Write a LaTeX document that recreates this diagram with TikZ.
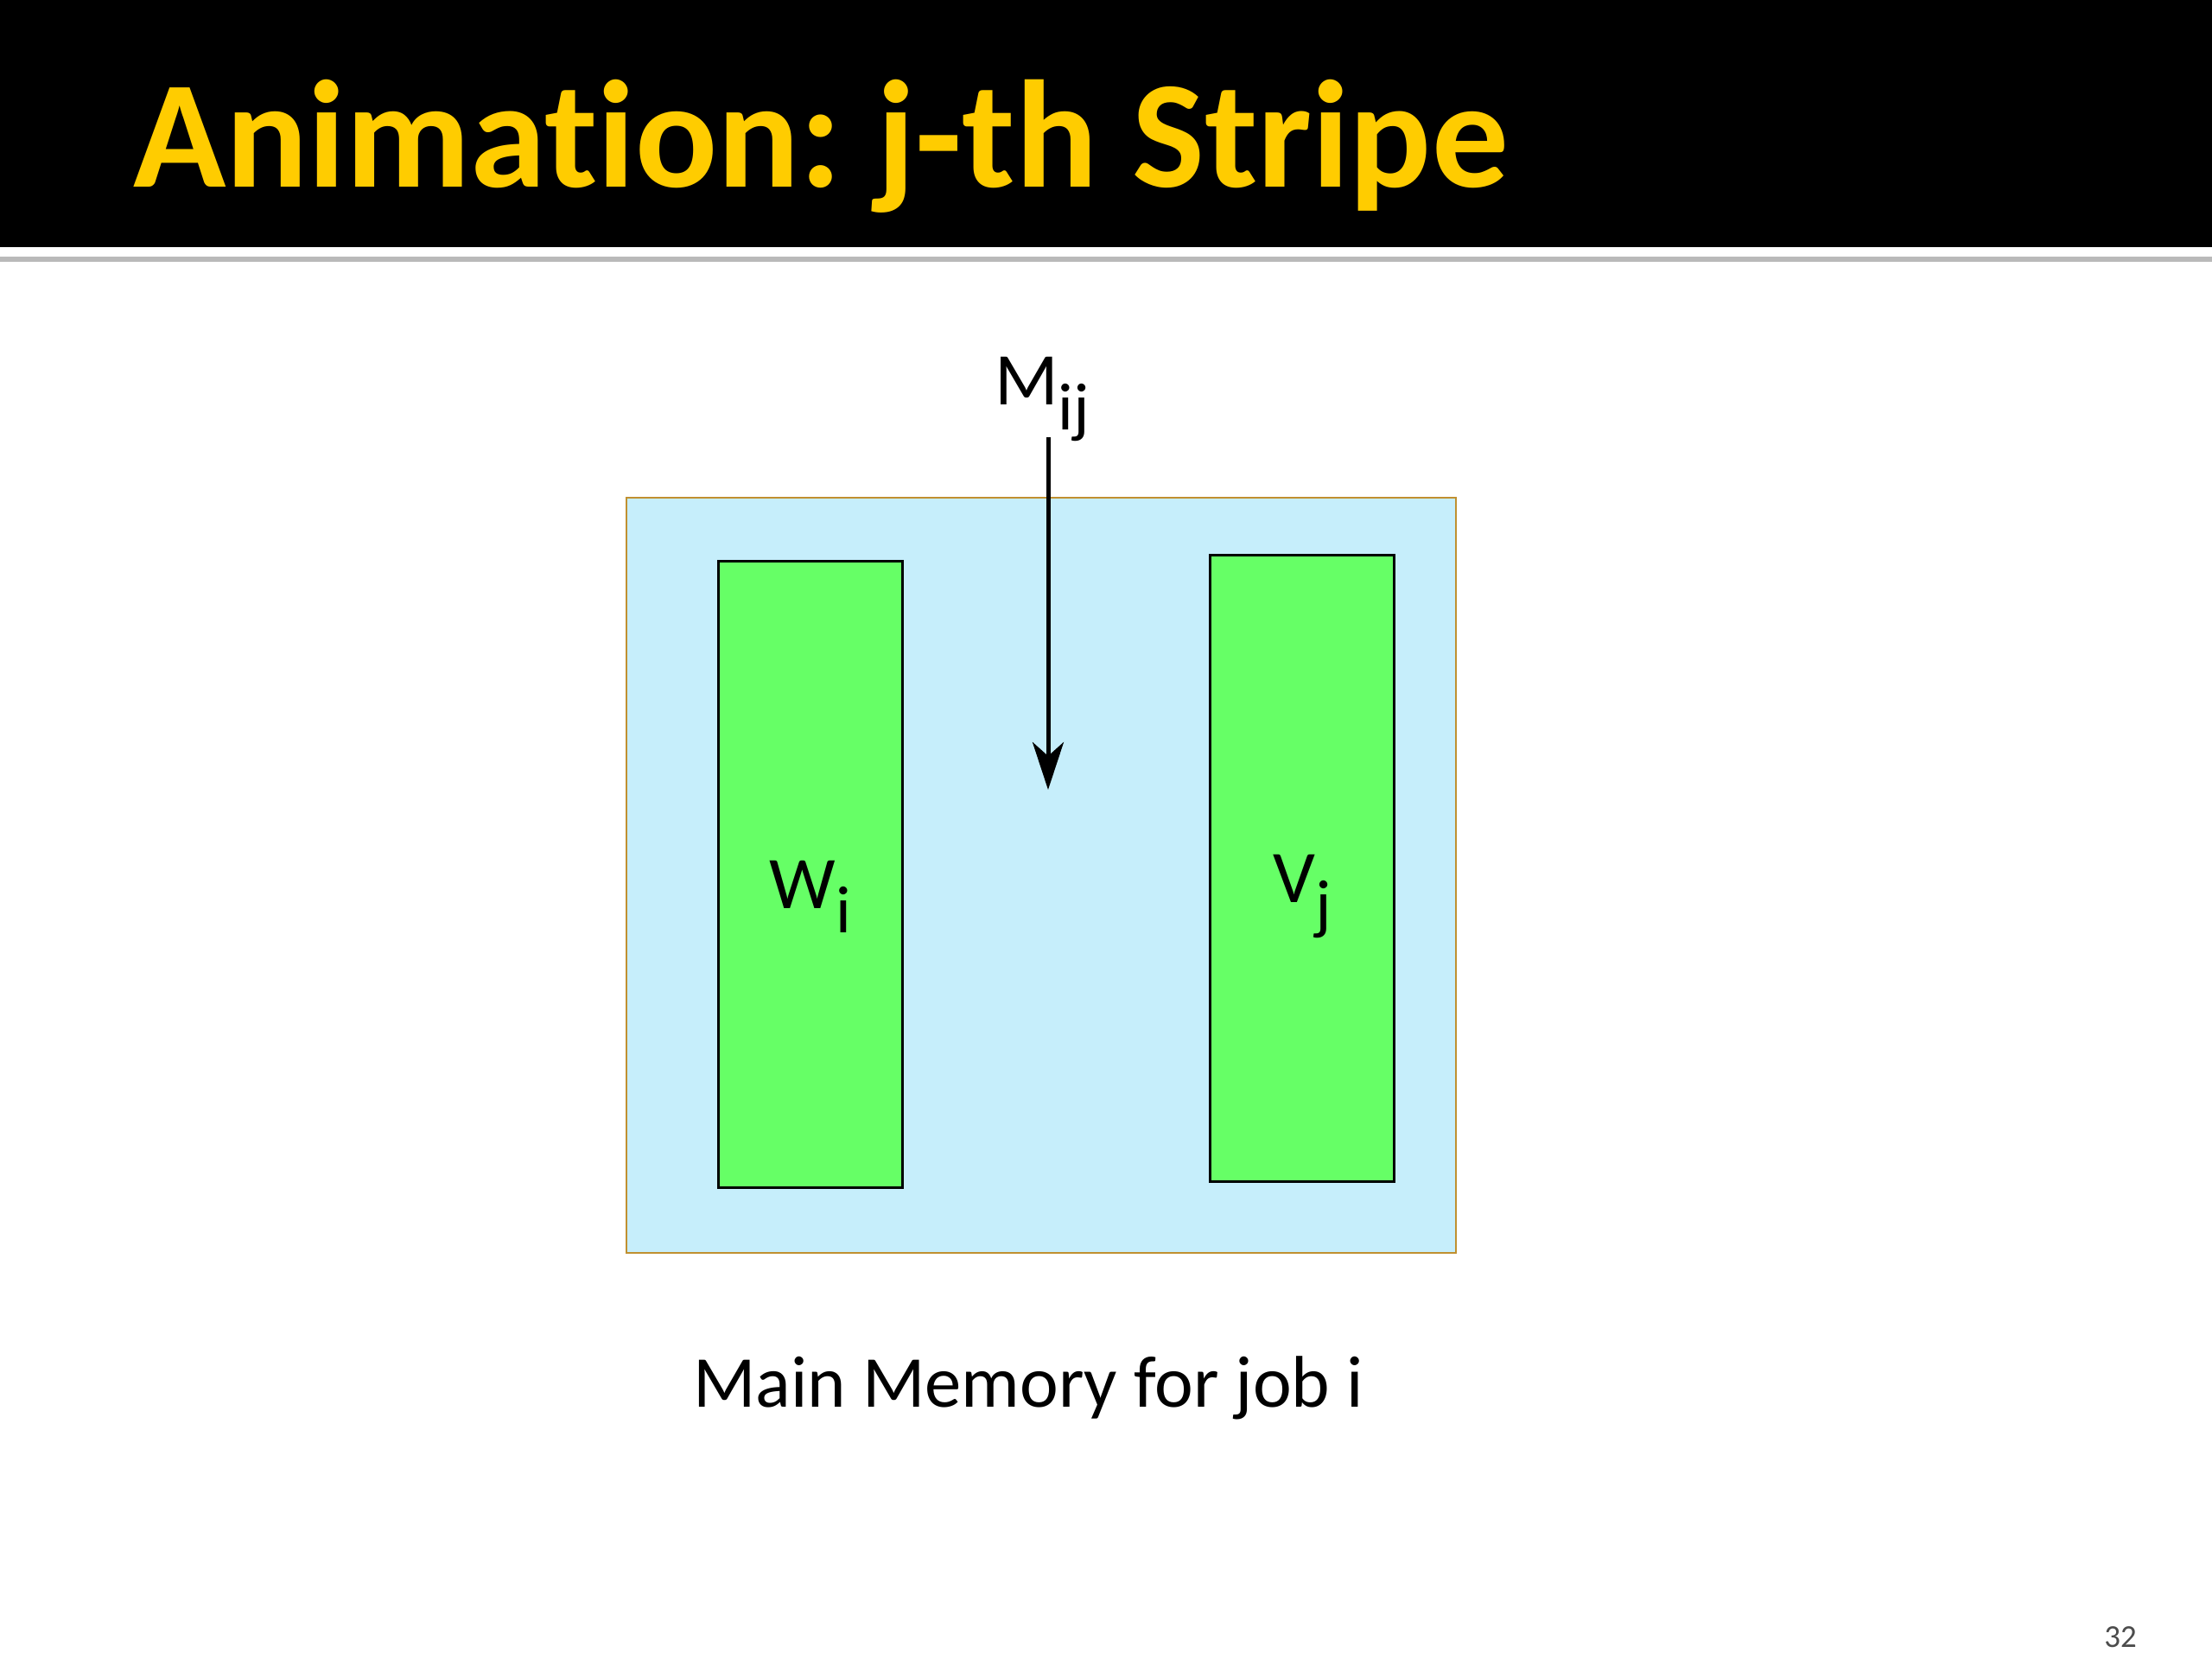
\documentclass[tikz,border=0pt]{standalone}
\usepackage{fontspec}
\setmainfont{Carlito}[Ligatures=NoCommon]
\usetikzlibrary{arrows.meta,positioning}
\definecolor{titleyellow}{HTML}{FFCC00}
\definecolor{memblue}{HTML}{C6EEFB}
\definecolor{memgold}{HTML}{C09030}
\definecolor{stripegreen}{HTML}{66FF66}
\newcommand{\lowsub}[1]{\raisebox{-8pt}{\fontsize{22}{26}\selectfont #1}}
\frenchspacing
\begin{document}
\begin{tikzpicture}[>={Stealth[length=5.5mm,width=3.6mm,inset=1.6mm]}, semithick,
        memory/.style={rectangle,draw=memgold,fill=memblue,line width=.25mm,
                       minimum width=9.6cm,minimum height=8.74cm},
        stripe/.style={rectangle,draw=black,fill=stripegreen,line width=.3mm,
                       minimum width=2.13cm,minimum height=7.25cm,
                       text height=22pt,text depth=0pt,
                       font=\fontsize{24.5}{28}\selectfont},
        label/.style={inner sep=0pt,font=\fontsize{24.5}{28}\selectfont}]
        \useasboundingbox (0,0) rectangle (25.6,19.2);
        % title bar
        \fill[black] (0,16.34) rectangle (25.6,19.2);
        \fill[gray!55] (0,16.17) rectangle (25.6,16.23);
        \node[anchor=base west,text=titleyellow,inner sep=0pt,
              font=\fontsize{50.4}{60}\selectfont\bfseries] at (1.53,17.03) (title) {Animation: j-th Stripe};
        \node[memory] at (12.05,9.07) (mem) {};
        \node[stripe] at (9.38,9.075) (w) {W\lowsub{i}};
        \node[stripe] at (15.07,9.145) (v) {V\lowsub{j}};
        \node[label,anchor=base west] at (11.5,14.51) (m) {M\lowsub{ij}};
        \coordinate (mtop) at (12.13,14.14);
        \coordinate (mend) at (12.13,10.06);
        \draw[line width=.5mm,->] (mtop) -- (mend);
        \node[label,anchor=base,font=\fontsize{24.1}{28}\selectfont] at (11.9,2.91) (caption) {Main Memory for job i};
        \node[anchor=base,text=black!70,font=\fontsize{10.5}{12}\selectfont] at (24.54,0.13) (page) {32};
      \end{tikzpicture}
\end{document}
